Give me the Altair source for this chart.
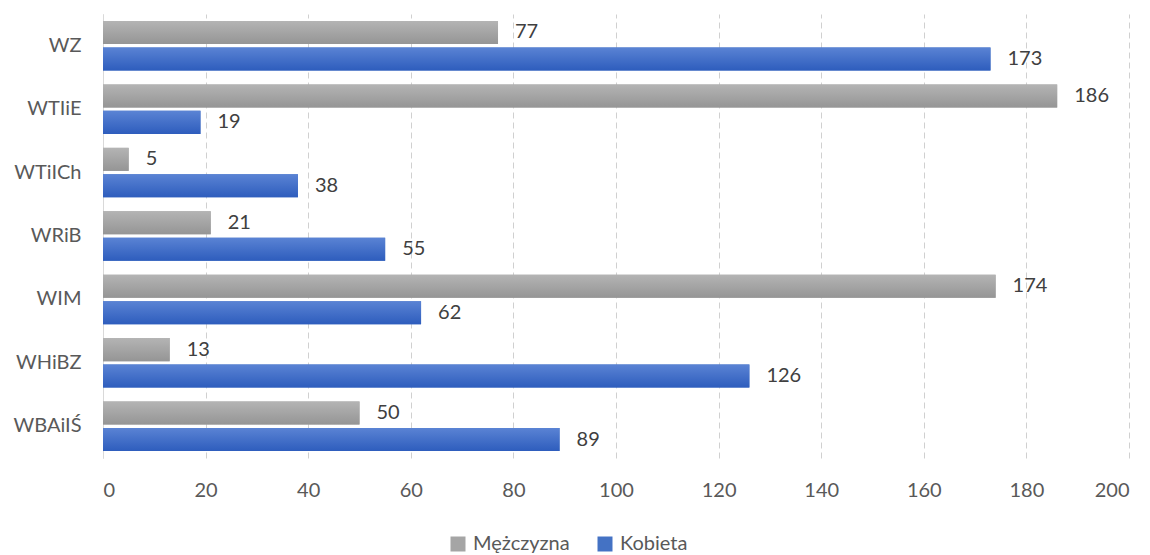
import altair as alt
import pandas as pd

categories = ["WZ", "WTIiE", "WTiICh", "WRiB", "WIM", "WHiBZ", "WBAiIŚ"]
men = [77, 186, 5, 21, 174, 13, 50]
women = [173, 19, 38, 55, 62, 126, 89]
series = ["Mężczyzna", "Kobieta"]
x_ticks = list(range(0, 201, 20))

rows = []
for c, m, w in zip(categories, men, women):
    rows.append({"cat": c, "series": series[0], "value": m})
    rows.append({"cat": c, "series": series[1], "value": w})
df = pd.DataFrame(rows)

FONT = "Lato"

y_enc = alt.Y("cat:N", sort=categories, title=None,
              scale=alt.Scale(paddingInner=0.22, paddingOuter=0.11),
              axis=alt.Axis(labelFontSize=20, labelColor="#595959", labelFont=FONT,
                            ticks=False, labelPadding=22, domain=True,
                            domainColor="#d9d9d9", grid=False))
yoff = alt.YOffset("series:N", sort=series,
                   scale=alt.Scale(domain=series, paddingInner=0.13))
x_enc = alt.X("value:Q", title=None,
              scale=alt.Scale(domain=[0, 200], nice=False),
              axis=alt.Axis(values=x_ticks, labelFontSize=20, labelColor="#595959",
                            labelFont=FONT, ticks=False, domain=False, grid=True,
                            gridColor="#d0d0d0", gridDash=[6, 4], gridWidth=1,
                            labelPadding=22))

base = alt.Chart(df)

legend_bars = base.mark_bar().encode(
    x=x_enc, y=y_enc, yOffset=yoff,
    color=alt.Color("series:N", sort=series,
                    scale=alt.Scale(domain=series, range=["#a5a5a5", "#4472c4"]),
                    legend=alt.Legend(title=None, orient="none", direction="horizontal",
                                      legendX=345, legendY=520, symbolType="square",
                                      symbolSize=225, symbolStrokeWidth=0,
                                      labelFontSize=20, labelFont=FONT,
                                      labelColor="#595959", labelOffset=5,
                                      columnPadding=25)),
)

gray_grad = alt.Gradient(gradient="linear", x1=0, x2=0, y1=0, y2=1,
                         stops=[alt.GradientStop(color="#b4b4b4", offset=0),
                                alt.GradientStop(color="#959595", offset=1)])
blue_grad = alt.Gradient(gradient="linear", x1=0, x2=0, y1=0, y2=1,
                         stops=[alt.GradientStop(color="#5a83d4", offset=0),
                                alt.GradientStop(color="#2e5dbd", offset=1)])

gray_bars = base.transform_filter(alt.datum.series == series[0]).mark_bar(
    fill=gray_grad).encode(x=x_enc, y=y_enc, yOffset=yoff)
blue_bars = base.transform_filter(alt.datum.series == series[1]).mark_bar(
    fill=blue_grad).encode(x=x_enc, y=y_enc, yOffset=yoff)

labels = base.mark_text(align="left", baseline="middle", dx=17, fontSize=20,
                        font=FONT, color="#404040").encode(
    x=x_enc, y=y_enc, yOffset=yoff, text="value:Q")

chart = alt.layer(legend_bars, gray_bars, blue_bars, labels).properties(
    width=1026, height=444,
    autosize=alt.AutoSizeParams(type="none"),
    padding={"left": 95, "top": 6, "right": 10, "bottom": 110},
).configure(background="white", view=alt.ViewConfig(stroke=None))

chart.save("out.html", embed_options={"renderer": "svg", "actions": False})
